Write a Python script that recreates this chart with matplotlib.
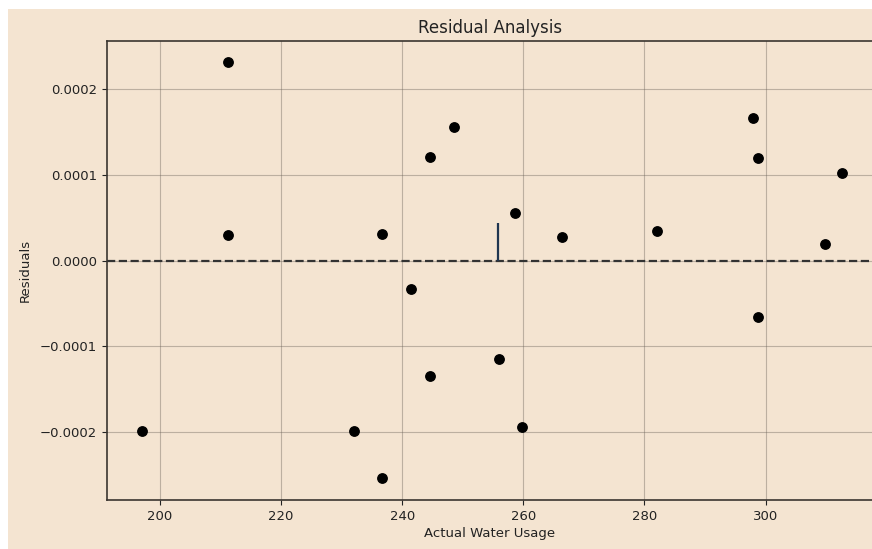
import matplotlib.pyplot as plt
from matplotlib.patches import Rectangle

# actual water usage vs residuals
actual = [197.0, 211.2, 211.2, 236.7, 232.1, 236.7, 241.5, 244.6, 244.6, 248.6,
          256.0, 258.7, 259.8, 266.4, 282.0, 298.0, 298.7, 298.7, 309.8, 312.6]
residuals = [-0.000198, 0.000232, 0.000030, 0.000031, -0.000199, -0.000253,
             -0.000033, 0.000121, -0.000134, 0.000156, -0.000115, 0.000055,
             -0.000194, 0.000028, 0.000035, 0.000166, 0.000120, -0.000066,
             0.000019, 0.000102]
stem_x = 255.9
stem_top = 0.000044

bg = '#f4e4d1'

fig = plt.figure(figsize=(8.72, 5.49), dpi=100)
fig.patch.set_facecolor(bg)
# white strips on top and left of the screenshot
fig.patches.append(Rectangle((0, 1 - 9 / 549), 1, 9 / 549, transform=fig.transFigure,
                             facecolor='white', edgecolor='none', zorder=0))
fig.patches.append(Rectangle((0, 0), 8 / 872, 1, transform=fig.transFigure,
                             facecolor='white', edgecolor='none', zorder=0))

ax = fig.add_axes([107 / 872, 49 / 549, 766 / 872, 459 / 549])
ax.set_facecolor(bg)

ax.scatter(actual, residuals, s=46, color='black', zorder=3)
ax.axhline(0, color='#333333', linestyle='--', linewidth=1.6, zorder=2)
ax.vlines(stem_x, 0, stem_top, color='#1f3550', linewidth=1.6, zorder=2)

ax.set_xlim(191.25, 317.75)
ax.set_ylim(-0.000279, 0.000256)
ax.set_xticks([200, 220, 240, 260, 280, 300])
ax.set_yticks([-0.0002, -0.0001, 0.0, 0.0001, 0.0002])
ax.set_yticklabels(['\u22120.0002', '\u22120.0001', '0.0000', '0.0001', '0.0002'])

ax.grid(True, color='#6a6158', linewidth=0.8, alpha=0.4)
ax.set_axisbelow(True)
for side in ['left', 'bottom', 'top', 'right']:
    ax.spines[side].set_color('#3a3530')
    ax.spines[side].set_linewidth(1.2)
ax.tick_params(colors='#222222', labelsize=9.5)

ax.set_title('Residual Analysis', fontsize=12, color='#222222', pad=6)
ax.set_xlabel('Actual Water Usage', fontsize=9.5, color='#222222', labelpad=3)
ax.set_ylabel('Residuals', fontsize=9.5, color='#222222', labelpad=6)

fig.savefig('out.png', dpi=100, facecolor=fig.get_facecolor())
